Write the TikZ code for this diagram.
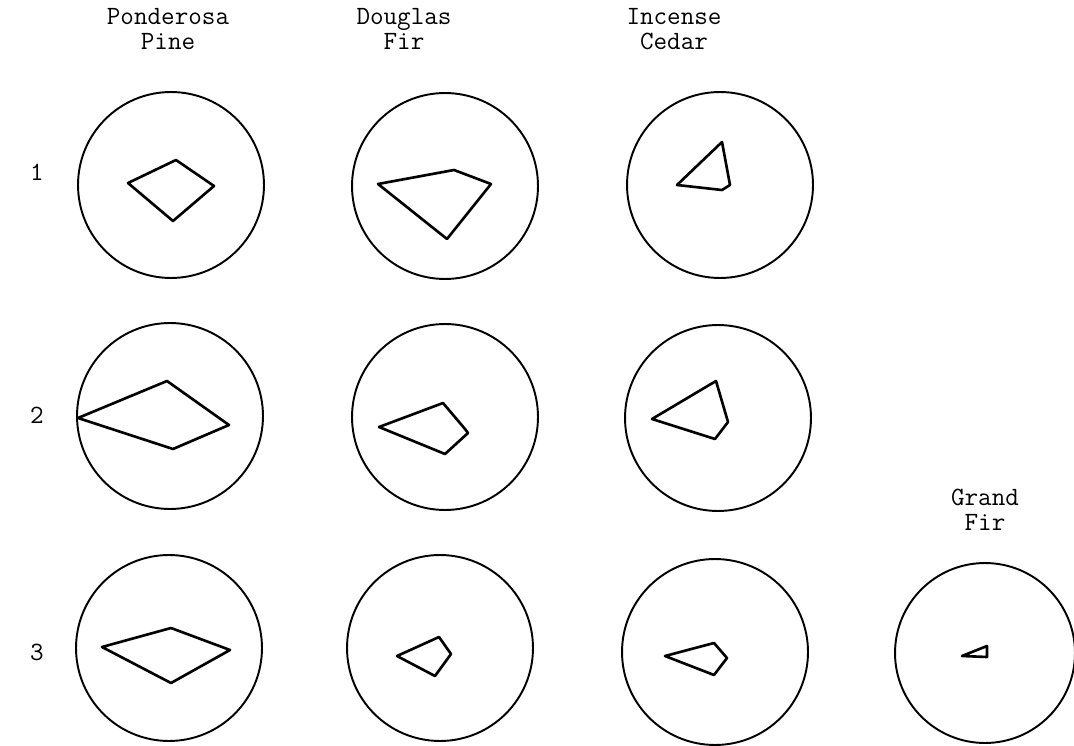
\documentclass[tikz,border=0pt]{standalone}
\usepackage{fontspec}
\usetikzlibrary{positioning}

\begin{document}
\begin{tikzpicture}[
    x=0.02cm, y=-0.02cm,
    font=\ttfamily\fontsize{15}{14.5}\selectfont,
    plot/.style={circle, draw, line width=1.1pt, minimum size=#1, inner sep=0pt},
    plot/.default=3.72cm,
    crown/.style={draw, line width=1.5pt, line join=round},
    species/.style={align=center, inner sep=0pt},
    rowno/.style={inner sep=0pt},
]
    \useasboundingbox (0,0) rectangle (1074,746);

    % species headings
    \node[species] (hpp) at (168,29) {Ponderosa\\Pine};
    \node[species] (hdf) at (404,29) {Douglas\\Fir};
    \node[species] (hic) at (674,29) {Incense\\Cedar};
    \node[species] (hgf) at (985,510) {Grand\\Fir};

    % row numbers
    \node[rowno] (r1) at (37,172) {1};
    \node[rowno] (r2) at (37,415) {2};
    \node[rowno] (r3) at (37,652) {3};

    % plots
    \node[plot] (pp1) at (171,185) {};
    \node[plot] (df1) at (445,186) {};
    \node[plot] (ic1) at (720,185) {};
    \node[plot] (pp2) at (170,416) {};
    \node[plot] (df2) at (445,417) {};
    \node[plot] (ic2) at (718,418) {};
    \node[plot] (pp3) at (169,648) {};
    \node[plot] (df3) at (440,648) {};
    \node[plot] (ic3) at (715,652) {};
    \node[plot=3.6cm] (gf3) at (985,653) {};

    % crown outlines
    \draw[crown] (128,183) -- (176,160) -- (214,186) -- (173,221) -- cycle;
    \draw[crown] (378,184) -- (454,170) -- (491,184) -- (447,239) -- cycle;
    \draw[crown] (677,185) -- (722,142) -- (730,185) -- (722,190) -- cycle;
    \draw[crown] (78,418) -- (167,381) -- (229,425) -- (173,449) -- cycle;
    \draw[crown] (379,427) -- (443,403) -- (465,429) -- (468,433) -- (445,454) -- cycle;
    \draw[crown] (652,419) -- (716,381) -- (728,422) -- (715,439) -- cycle;
    \draw[crown] (102,647) -- (171,628) -- (230,650) -- (171,683) -- cycle;
    \draw[crown] (397,656) -- (439,637) -- (451,654) -- (435,676) -- cycle;
    \draw[crown] (665,656) -- (714,643) -- (727,658) -- (714,675) -- cycle;
    \draw[crown] (962,656) -- (987,646) -- (987,657) -- cycle;
\end{tikzpicture}
\end{document}
